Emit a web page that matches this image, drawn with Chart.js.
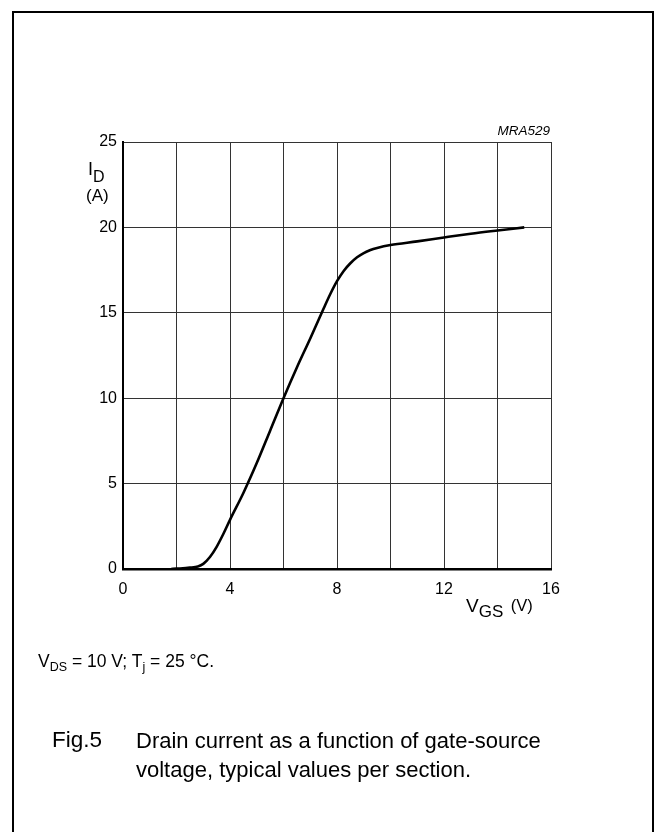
<!DOCTYPE html>
<html>
<head>
<meta charset="utf-8">
<script src="https://cdn.jsdelivr.net/npm/chart.js@4.4.1/dist/chart.umd.min.js"></script>
<style>
  html,body{margin:0;padding:0;background:#fff;width:655px;height:832px;overflow:hidden;font-family:"Liberation Sans",Arial,sans-serif;}
  #frame{position:absolute;left:12px;top:11px;width:642px;height:840px;border:2px solid #000;box-sizing:border-box;}
  canvas{position:absolute;left:0;top:0;}
  .t{position:absolute;color:#000;white-space:nowrap;line-height:1;}
  .sub{position:relative;}
</style>
</head>
<body>
<div id="frame"></div>
<canvas id="c" width="655" height="832"></canvas>
<div class="t" style="left:88px;top:160px;font-size:18px;">I<span class="sub" style="font-size:16px;top:7px;">D</span></div>
<div class="t" style="left:86px;top:187px;font-size:17px;">(A)</div>
<div class="t" style="right:105px;top:124px;font-size:13.5px;font-style:italic;">MRA529</div>
<div class="t" style="left:466px;top:596px;font-size:19px;">V<span class="sub" style="font-size:17px;top:5px;">GS</span><span style="font-size:16.5px;position:relative;top:-1px;margin-left:3px;"> (V)</span></div>
<div class="t" style="left:38px;top:653px;font-size:17.5px;">V<span class="sub" style="font-size:12.5px;top:4px;">DS</span> = 10 V; T<span class="sub" style="font-size:12.5px;top:4px;">j</span> = 25 °C.</div>
<div class="t" style="left:52px;top:729px;font-size:22.5px;">Fig.5</div>
<div class="t" style="left:136px;top:726px;font-size:22px;line-height:29px;">Drain current as a function of gate-source<br>voltage, typical values per section.</div>
<script>
const vgs = [1.8, 2, 2.5, 2.8, 3, 3.25, 3.5, 3.75, 4, 4.5, 5, 5.5, 6, 6.5, 7, 7.5, 7.75, 8, 8.25, 8.5, 8.75, 9, 9.25, 9.5, 10, 11, 12, 13, 14, 15];
const idA = [0, 0.02, 0.08, 0.15, 0.3, 0.7, 1.3, 2.05, 2.88, 4.45, 6.2, 8.1, 10, 11.8, 13.5, 15.25, 16.1, 16.85, 17.45, 17.9, 18.25, 18.5, 18.68, 18.8, 18.97, 19.18, 19.41, 19.63, 19.82, 20.0];
const xTickLabels = [0, 4, 8, 12, 16];
const yTickLabels = [0, 5, 10, 15, 20, 25];

const pts = vgs.map((x, i) => ({x: x, y: idA[i]}));
const tickFont = {family: "'Liberation Sans', Arial, sans-serif", size: 16};

new Chart(document.getElementById('c'), {
  type: 'line',
  data: {datasets: [{data: pts, borderColor: '#000', borderWidth: 2.6, pointRadius: 0, fill: false, cubicInterpolationMode: 'monotone'}]},
  options: {
    responsive: false, animation: false, devicePixelRatio: 1,
    layout: {padding: {left: 0, top: 142, right: 104, bottom: 223}},
    plugins: {legend: {display: false}, tooltip: {enabled: false}},
    scales: {
      x: {
        type: 'linear', min: 0, max: 16,
        afterFit: s => { s.height = 40; },
        ticks: {stepSize: 2, color: '#000', font: tickFont, padding: 11, maxRotation: 0,
          callback: v => xTickLabels.includes(v) ? String(v) : ''},
        grid: {color: '#333', lineWidth: 1, drawTicks: false},
        border: {color: '#000', width: 2.5}
      },
      y: {
        type: 'linear', min: 0, max: 25,
        afterFit: s => { s.width = 123; },
        ticks: {stepSize: 5, color: '#000', font: tickFont, padding: 6,
          callback: v => yTickLabels.includes(v) ? String(v) : ''},
        grid: {color: '#333', lineWidth: 1, drawTicks: false},
        border: {color: '#000', width: 2}
      }
    }
  }
});
</script>
</body>
</html>
